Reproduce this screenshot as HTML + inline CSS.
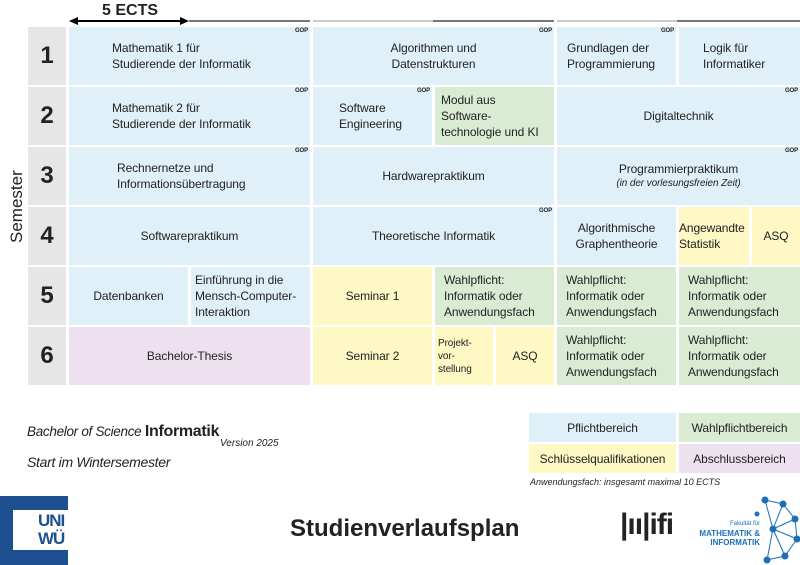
<!DOCTYPE html>
<html><head><meta charset="utf-8"><style>
body{margin:0;width:800px;height:565px;position:relative;background:#fff;font-family:"Liberation Sans",sans-serif;overflow:hidden;color:#222}
.c{position:absolute;display:flex;align-items:center;justify-content:center;font-size:12px;line-height:16px;box-sizing:border-box;letter-spacing:-0.1px}
.l{justify-content:flex-start;padding-left:10px}
.b{background:#dff0f8}.g{background:#d9ecd3}.y{background:#fdf8c4}.p{background:#ede1f0}
.n{background:#e6e6e6;font-weight:bold;font-size:24px}
.gop{position:absolute;font-size:6px;font-weight:bold;top:1px;right:2px;line-height:7px}
</style></head><body>
<div style="position:absolute;left:102px;top:2px;font-weight:bold;font-size:16px">5 ECTS</div>
<svg style="position:absolute;left:0;top:0" width="800" height="30">
<line x1="72" y1="21" x2="186" y2="21" stroke="#000" stroke-width="2"/>
<polygon points="69,21 78,17 78,25" fill="#000"/><polygon points="189,21 180,17 180,25" fill="#000"/>
<line x1="189" y1="21" x2="310" y2="21" stroke="#777" stroke-width="2"/>
<line x1="313" y1="21" x2="433" y2="21" stroke="#ccc" stroke-width="2"/>
<line x1="433" y1="21" x2="554" y2="21" stroke="#777" stroke-width="2"/>
<line x1="557" y1="21" x2="677" y2="21" stroke="#ccc" stroke-width="2"/>
<line x1="677" y1="21" x2="800" y2="21" stroke="#777" stroke-width="2"/>
</svg>
<div style="position:absolute;left:-18px;top:198px;transform:rotate(-90deg);font-size:17px;width:70px;text-align:center">Semester</div>

<div class="c n" style="left:28px;top:27px;width:38px;height:58px">1</div>
<div class="c n" style="left:28px;top:87px;width:38px;height:58px">2</div>
<div class="c n" style="left:28px;top:147px;width:38px;height:58px">3</div>
<div class="c n" style="left:28px;top:207px;width:38px;height:58px">4</div>
<div class="c n" style="left:28px;top:267px;width:38px;height:58px">5</div>
<div class="c n" style="left:28px;top:327px;width:38px;height:58px">6</div>

<div class="c b l" style="left:69px;top:27px;width:241px;height:58px;padding-left:43px">Mathematik 1 für<br>Studierende der Informatik<span class="gop">GOP</span></div>
<div class="c b" style="left:313px;top:27px;width:241px;height:58px;text-align:center">Algorithmen und<br>Datenstrukturen<span class="gop">GOP</span></div>
<div class="c b l" style="left:557px;top:27px;width:119px;height:58px">Grundlagen der<br>Programmierung<span class="gop">GOP</span></div>
<div class="c b l" style="left:679px;top:27px;width:121px;height:58px;padding-left:24px">Logik für<br>Informatiker</div>

<div class="c b l" style="left:69px;top:87px;width:241px;height:58px;padding-left:43px">Mathematik 2 für<br>Studierende der Informatik<span class="gop">GOP</span></div>
<div class="c b l" style="left:313px;top:87px;width:119px;height:58px;padding-left:26px">Software<br>Engineering<span class="gop">GOP</span></div>
<div class="c g l" style="left:435px;top:87px;width:119px;height:58px;padding-left:6px">Modul aus<br>Software-<br>technologie und KI</div>
<div class="c b" style="left:557px;top:87px;width:243px;height:58px">Digitaltechnik<span class="gop">GOP</span></div>

<div class="c b l" style="left:69px;top:147px;width:241px;height:58px;padding-left:48px">Rechnernetze und<br>Informationsübertragung<span class="gop">GOP</span></div>
<div class="c b" style="left:313px;top:147px;width:241px;height:58px">Hardwarepraktikum</div>
<div class="c b" style="left:557px;top:147px;width:243px;height:58px;text-align:center;flex-direction:column">Programmierpraktikum<span style="font-size:10px;font-style:italic;line-height:14px">(in der vorlesungsfreien Zeit)</span><span class="gop">GOP</span></div>

<div class="c b" style="left:69px;top:207px;width:241px;height:58px">Softwarepraktikum</div>
<div class="c b" style="left:313px;top:207px;width:241px;height:58px">Theoretische Informatik<span class="gop">GOP</span></div>
<div class="c b" style="left:557px;top:207px;width:119px;height:58px;text-align:center">Algorithmische<br>Graphentheorie</div>
<div class="c y l" style="left:679px;top:207px;width:70px;height:58px;padding-left:0">Angewandte<br>Statistik</div>
<div class="c y" style="left:752px;top:207px;width:48px;height:58px">ASQ</div>

<div class="c b" style="left:69px;top:267px;width:119px;height:58px">Datenbanken</div>
<div class="c b l" style="left:191px;top:267px;width:119px;height:58px;padding-left:4px">Einführung in die<br>Mensch-Computer-<br>Interaktion</div>
<div class="c y" style="left:313px;top:267px;width:119px;height:58px">Seminar 1</div>
<div class="c g l" style="left:435px;top:267px;width:119px;height:58px;padding-left:9px">Wahlpflicht:<br>Informatik oder<br>Anwendungsfach</div>
<div class="c g l" style="left:557px;top:267px;width:119px;height:58px;padding-left:9px">Wahlpflicht:<br>Informatik oder<br>Anwendungsfach</div>
<div class="c g l" style="left:679px;top:267px;width:121px;height:58px;padding-left:9px">Wahlpflicht:<br>Informatik oder<br>Anwendungsfach</div>

<div class="c p" style="left:69px;top:327px;width:241px;height:58px">Bachelor-Thesis</div>
<div class="c y" style="left:313px;top:327px;width:119px;height:58px">Seminar 2</div>
<div class="c y l" style="left:435px;top:327px;width:58px;height:58px;padding-left:3px;font-size:10px;line-height:13px">Projekt-<br>vor-<br>stellung</div>
<div class="c y" style="left:496px;top:327px;width:58px;height:58px">ASQ</div>
<div class="c g l" style="left:557px;top:327px;width:119px;height:58px;padding-left:9px">Wahlpflicht:<br>Informatik oder<br>Anwendungsfach</div>
<div class="c g l" style="left:679px;top:327px;width:121px;height:58px;padding-left:9px">Wahlpflicht:<br>Informatik oder<br>Anwendungsfach</div>

<div style="position:absolute;left:27px;top:423px;font-size:13.5px;font-style:italic;letter-spacing:-0.3px">Bachelor of Science <b style="font-style:normal;font-size:16px">Informatik</b></div>
<div style="position:absolute;left:220px;top:438px;font-size:10px;font-style:italic">Version 2025</div>
<div style="position:absolute;left:27px;top:454px;font-size:14px;font-style:italic;letter-spacing:-0.3px">Start im Wintersemester</div>

<div class="c b" style="left:529px;top:413px;width:147px;height:29px">Pflichtbereich</div>
<div class="c g" style="left:679px;top:413px;width:121px;height:29px">Wahlpflichtbereich</div>
<div class="c y" style="left:529px;top:444px;width:147px;height:29px">Schlüsselqualifikationen</div>
<div class="c p" style="left:679px;top:444px;width:121px;height:29px">Abschlussbereich</div>
<div style="position:absolute;left:530px;top:477px;font-size:9px;font-style:italic">Anwendungsfach: insgesamt maximal 10 ECTS</div>

<div style="position:absolute;left:0;top:496px;width:68px;height:69px;background:#1d4f91"></div>
<div style="position:absolute;left:13px;top:510px;width:55px;height:40px;background:#fff"></div>
<div style="position:absolute;left:38px;top:512px;color:#1d4f91;font-weight:bold;font-size:17px;line-height:18px;letter-spacing:-1px">UNI<br>WÜ</div>

<div style="position:absolute;left:290px;top:515px;font-weight:bold;font-size:24px">Studienverlaufsplan</div>

<div style="position:absolute;left:620px;top:508px;font-weight:bold;font-size:30px;letter-spacing:-1px;color:#222">|ıı|ifi</div>
<div style="position:absolute;left:690px;top:518px;font-size:8px;font-weight:bold;color:#1d6fb8;text-align:right;line-height:9px;width:70px"><span style="font-weight:normal;font-size:6px">Fakultät für</span><br>MATHEMATIK &amp;<br>INFORMATIK</div>
<svg style="position:absolute;left:745px;top:494px" width="55" height="71"><g stroke="#1d6fb8" fill="#1d6fb8" stroke-width="1">
<circle cx="20" cy="6" r="3"/><circle cx="38" cy="10" r="3"/><circle cx="50" cy="25" r="3"/><circle cx="52" cy="45" r="3"/><circle cx="40" cy="62" r="3"/><circle cx="22" cy="66" r="3"/><circle cx="28" cy="35" r="3"/><circle cx="12" cy="20" r="2"/>
<polyline fill="none" points="20,6 38,10 50,25 52,45 40,62 22,66 28,35 20,6"/><line x1="38" y1="10" x2="28" y2="35"/><line x1="50" y1="25" x2="28" y2="35"/><line x1="52" y1="45" x2="28" y2="35"/><line x1="40" y1="62" x2="28" y2="35"/></g></svg>
</body></html>
